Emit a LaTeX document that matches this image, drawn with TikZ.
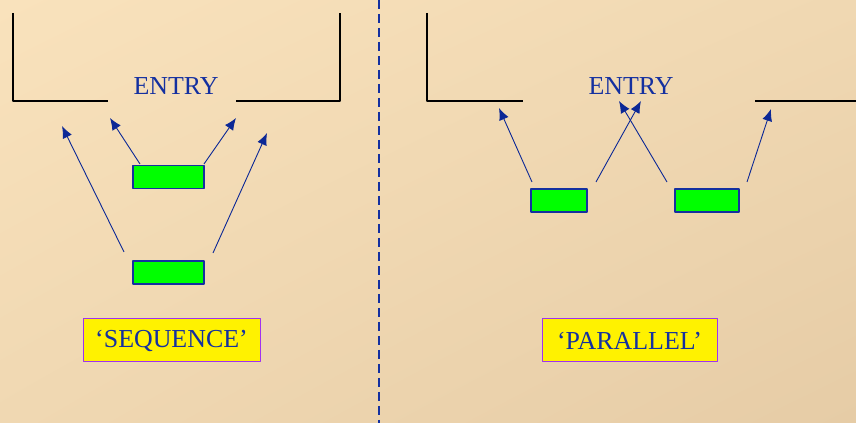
\documentclass[tikz,border=0pt]{standalone}
\usepackage{fontspec}
\setmainfont{Liberation Serif}
\usepackage{tikz}
\usetikzlibrary{arrows.meta,%
                shapes,shadings,positioning}
\definecolor{entryblue}{RGB}{20,48,160}
\definecolor{arrowblue}{RGB}{12,40,150}
\definecolor{labelpurple}{RGB}{160,50,240}
\definecolor{bgtl}{RGB}{249,226,188}
\definecolor{bgmid}{RGB}{240,216,178}
\definecolor{bgbr}{RGB}{230,204,166}
\tikzstyle{task}=[rectangle,draw=entryblue,line width=1.2bp,fill=green,inner sep=0pt,minimum height=23bp]
\tikzstyle{caption}=[rectangle,draw=labelpurple,line width=1bp,fill=yellow,inner sep=0pt,minimum height=43bp,text=entryblue,font=\fontsize{26}{30}\selectfont]
\tikzstyle{entry}=[text=entryblue,font=\fontsize{26}{30}\selectfont]
\tikzstyle{wall}=[line width=2bp,black]
\tikzstyle{flow}=[-{Latex[length=12bp,width=10bp]},draw=arrowblue,line width=0.9bp]

\begin{document}
\begin{tikzpicture}[line join=bevel]
	%%
	\shade [upper left=bgtl,upper right=bgmid,lower left=bgmid,lower right=bgbr]
	  (0bp,0bp) rectangle (856bp,423bp);
	\useasboundingbox (0bp,0bp) rectangle (856bp,423bp);
	%% sequence
	\draw [wall] (13bp,410bp) -- (13bp,322bp) -- (108bp,322bp);
	\draw [wall] (236bp,322bp) -- (340bp,322bp) -- (340bp,410bp);
	\node (entryS) at (176bp,337bp) [entry] {ENTRY};
	  \node (S1) at (168.5bp,246bp) [task,minimum width=71bp] {};
	  \node (S2) at (168.5bp,150.5bp) [task,minimum width=71bp] {};
	  \node (seq) at (171.5bp,82.5bp) [caption,minimum width=177bp] {`SEQUENCE'};
	  \coordinate (s1a) at (140bp,259bp);
	  \coordinate (s1b) at (204bp,259bp);
	  \coordinate (s2a) at (124bp,171bp);
	  \coordinate (s2b) at (213bp,170bp);
	  \coordinate (t1a) at (110bp,305bp);
	  \coordinate (t1b) at (236bp,305bp);
	  \coordinate (t2a) at (62bp,297bp);
	  \coordinate (t2b) at (267bp,290bp);
	  \draw [flow] (s1a) -- (t1a);
	  \draw [flow] (s1b) -- (t1b);
	  \draw [flow] (s2a) -- (t2a);
	  \draw [flow] (s2b) -- (t2b);
	%% divider
	\draw [entryblue,line width=2bp,dash pattern=on 9bp off 5bp] (379bp,423bp) -- (379bp,0bp);
	%% parallel
	\draw [wall] (427bp,410bp) -- (427bp,322bp) -- (523bp,322bp);
	\draw [wall] (755bp,322bp) -- (856bp,322bp);
	\node (entryP) at (631bp,337bp) [entry] {ENTRY};
	  \node (P1) at (559bp,222.5bp) [task,minimum width=56bp] {};
	  \node (P2) at (707bp,222.5bp) [task,minimum width=64bp] {};
	  \node (par) at (629.5bp,82.5bp) [caption,minimum width=175bp] {`PARALLEL'};
	  \coordinate (p1a) at (532bp,241bp);
	  \coordinate (p1b) at (596bp,241bp);
	  \coordinate (p2a) at (667bp,241bp);
	  \coordinate (p2b) at (747bp,241bp);
	  \coordinate (q1a) at (499bp,315bp);
	  \coordinate (q1b) at (641bp,322bp);
	  \coordinate (q2a) at (619bp,322bp);
	  \coordinate (q2b) at (771bp,314bp);
	  \draw [flow] (p1a) -- (q1a);
	  \draw [flow] (p1b) -- (q1b);
	  \draw [flow] (p2a) -- (q2a);
	  \draw [flow] (p2b) -- (q2b);
	%
\end{tikzpicture}
\end{document}
